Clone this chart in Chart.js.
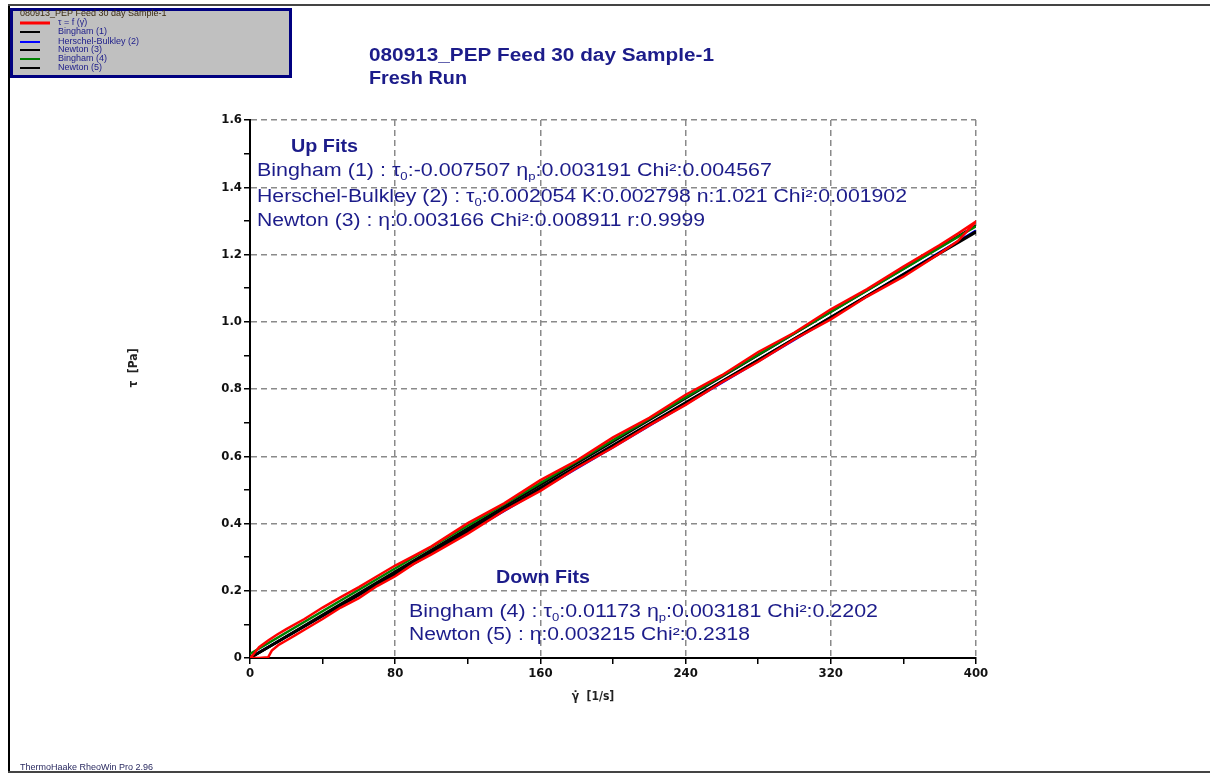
<!DOCTYPE html>
<html>
<head>
<meta charset="utf-8">
<title>080913_PEP Feed 30 day Sample-1</title>
<script src="https://cdn.jsdelivr.net/npm/chart.js@4.4.1/dist/chart.umd.min.js"></script>
<style>
html, body { margin: 0; padding: 0; background: #fff; }
#wrap { width: 1210px; height: 773px; }
</style>
</head>
<body>
<div id="wrap"><canvas id="rheoChart" width="1210" height="773"></canvas></div>
<script>
const sampleTitle = '080913_PEP Feed 30 day Sample-1';
const runName = 'Fresh Run';
const footerText = 'ThermoHaake RheoWin Pro 2.96';

// axis ticks
const xMajor = [0, 80, 160, 240, 320, 400];
const yMajor = [0, 0.2, 0.4, 0.6, 0.8, 1.0, 1.2, 1.4, 1.6];

// measured curve: up ramp then down ramp
const upShear  = [0, 5, 10, 12, 16, 20, 25, 30, 40, 50, 60, 70, 80, 90, 100, 120, 140, 160, 180, 200, 220, 240, 260, 280, 300, 320, 340, 360, 380, 390, 400];
const upStress = [0, 0, 0.002, 0.022, 0.040, 0.052, 0.068, 0.084, 0.116, 0.150, 0.178, 0.214, 0.243, 0.279, 0.308, 0.370, 0.438, 0.497, 0.565, 0.626, 0.692, 0.753, 0.820, 0.881, 0.948, 1.007, 1.075, 1.134, 1.203, 1.240, 1.298];
const downShear  = [400, 390, 380, 360, 340, 320, 300, 280, 260, 240, 220, 200, 180, 160, 140, 120, 100, 90, 80, 70, 60, 50, 40, 30, 20, 15, 10, 5, 2, 0];
const downStress = [1.298, 1.262, 1.228, 1.164, 1.097, 1.037, 0.968, 0.910, 0.841, 0.783, 0.714, 0.656, 0.587, 0.529, 0.460, 0.401, 0.332, 0.303, 0.275, 0.243, 0.211, 0.181, 0.150, 0.116, 0.086, 0.070, 0.052, 0.032, 0.012, 0];

// fitted curves
const fitShear = [0, 100, 200, 300, 400];
const bingham1 = [0, 0.312, 0.631, 0.950, 1.269];
const herschel2 = [0.002, 0.311, 0.627, 0.947, 1.271];
const newton3 = [0, 0.317, 0.633, 0.950, 1.266];
const bingham4 = [0.012, 0.330, 0.648, 0.966, 1.284];
const newton5 = [0, 0.322, 0.643, 0.965, 1.286];

const seriesLabels = ['τ = f (γ̇)', 'Bingham (1)', 'Herschel-Bulkley (2)', 'Newton (3)', 'Bingham (4)', 'Newton (5)'];
const seriesColors = ['#ff0000', '#000000', '#0000ff', '#000000', '#008000', '#000000'];

const upFitLines = [
    ['Bingham (1) : τ', { sub: '0' }, ':-0.007507 η', { sub: 'p' }, ':0.003191 Chi²:0.004567'],
    ['Herschel-Bulkley (2) : τ', { sub: '0' }, ':0.002054 K:0.002798 n:1.021 Chi²:0.001902'],
    ['Newton (3) : η:0.003166 Chi²:0.008911 r:0.9999']
];
const downFitLines = [
    ['Bingham (4) : τ', { sub: '0' }, ':0.01173 η', { sub: 'p' }, ':0.003181 Chi²:0.2202'],
    ['Newton (5) : η:0.003215 Chi²:0.2318']
];

const navy = '#1c1c8a';
const sans = '"Liberation Sans", Arial, sans-serif';
const tickFont = "'Liberation Sans Narrow', 'DejaVu Sans Condensed', 'Liberation Sans', sans-serif";

function toPoints(xs, ys) {
    return xs.map((x, i) => ({ x: x, y: ys[i] }));
}

// draws text parts (plain strings and {sub}) stretched to a given width
function drawRich(ctx, parts, x, y, size, weight, width) {
    const big = weight + ' ' + size + 'px ' + sans;
    const small = weight + ' ' + Math.round(size * 0.62) + 'px ' + sans;
    let natural = 0;
    parts.forEach(p => {
        ctx.font = typeof p === 'string' ? big : small;
        natural += ctx.measureText(typeof p === 'string' ? p : p.sub).width;
    });
    ctx.save();
    ctx.translate(x, y);
    ctx.scale(width ? width / natural : 1, 1);
    let cx = 0;
    parts.forEach(p => {
        if (typeof p === 'string') {
            ctx.font = big;
            ctx.fillText(p, cx, 0);
            cx += ctx.measureText(p).width;
        } else {
            ctx.font = small;
            ctx.fillText(p.sub, cx, size * 0.32);
            cx += ctx.measureText(p.sub).width;
        }
    });
    ctx.restore();
}

const decorPlugin = {
    id: 'decor',
    beforeDraw(chart) {
        const ctx = chart.ctx;
        ctx.save();
        ctx.fillStyle = '#ffffff';
        ctx.fillRect(0, 0, chart.width, chart.height);
        ctx.restore();
    },
    afterDraw(chart) {
        const ctx = chart.ctx;
        ctx.save();

        // page frame
        ctx.strokeStyle = '#000';
        ctx.lineWidth = 2;
        ctx.beginPath();
        ctx.moveTo(9, 5);
        ctx.lineTo(9, 773);
        ctx.stroke();
        ctx.strokeStyle = '#444';
        ctx.beginPath();
        ctx.moveTo(8, 5);
        ctx.lineTo(1210, 5);
        ctx.stroke();

        // legend box
        ctx.fillStyle = '#c0c0c0';
        ctx.fillRect(11, 9, 280, 68);
        ctx.strokeStyle = '#000080';
        ctx.lineWidth = 3;
        ctx.strokeRect(11.5, 9.5, 279, 67);
        ctx.textBaseline = 'middle';
        ctx.textAlign = 'left';
        ctx.fillStyle = '#3a2a10';
        ctx.font = '9px ' + sans;
        ctx.fillText(sampleTitle, 20, 14);
        const rowY = [23, 32, 42, 50, 59, 68];
        chart.data.datasets.forEach((ds, i) => {
            ctx.strokeStyle = ds.borderColor;
            ctx.lineWidth = i === 0 ? 3 : 2;
            ctx.beginPath();
            ctx.moveTo(20, rowY[i]);
            ctx.lineTo(i === 0 ? 50 : 40, rowY[i]);
            ctx.stroke();
            ctx.fillStyle = navy;
            ctx.font = '9px ' + sans;
            ctx.fillText(ds.label, 58, rowY[i]);
        });

        // title
        ctx.fillStyle = navy;
        drawRich(ctx, [sampleTitle], 369, 56, 18, 'bold', 345);
        drawRich(ctx, [runName], 369, 79, 18, 'bold', 98);

        // fit annotations
        drawRich(ctx, ['Up Fits'], 291, 147, 18, 'bold', 67);
        const upW = [515, 650, 448];
        [171, 197, 221].forEach((y, i) => drawRich(ctx, upFitLines[i], 257, y, 18, 'normal', upW[i]));
        drawRich(ctx, ['Down Fits'], 496, 578, 18, 'bold', 94);
        const downW = [469, 341];
        [612, 635].forEach((y, i) => drawRich(ctx, downFitLines[i], 409, y, 18, 'normal', downW[i]));

        // axis titles
        ctx.fillStyle = '#222';
        ctx.font = 'bold 12px ' + tickFont;
        ctx.textAlign = 'center';
        ctx.fillText('γ̇  [1/s]', 593, 697);
        ctx.save();
        ctx.translate(134, 368);
        ctx.rotate(-Math.PI / 2);
        ctx.fillText('τ  [Pa]', 0, 0);
        ctx.restore();

        // footer
        ctx.textAlign = 'left';
        ctx.fillStyle = '#2a2a60';
        ctx.font = '9px ' + sans;
        ctx.fillText(footerText, 20, 768);
        ctx.strokeStyle = '#444';
        ctx.lineWidth = 2;
        ctx.beginPath();
        ctx.moveTo(8, 772);
        ctx.lineTo(1210, 772);
        ctx.stroke();

        ctx.restore();
    }
};

const ctx = document.getElementById('rheoChart').getContext('2d');

new Chart(ctx, {
    type: 'scatter',
    data: {
        datasets: [
            {
                label: seriesLabels[0],
                data: toPoints(upShear.concat(downShear), upStress.concat(downStress)),
                borderColor: seriesColors[0],
                borderWidth: 2.5,
                order: 1
            },
            {
                label: seriesLabels[1],
                data: toPoints(fitShear, bingham1),
                borderColor: seriesColors[1],
                borderWidth: 2.5,
                order: 6
            },
            {
                label: seriesLabels[2],
                data: toPoints(fitShear, herschel2),
                borderColor: seriesColors[2],
                borderWidth: 2.5,
                order: 7
            },
            {
                label: seriesLabels[3],
                data: toPoints(fitShear, newton3),
                borderColor: seriesColors[3],
                borderWidth: 2.5,
                order: 5
            },
            {
                label: seriesLabels[4],
                data: toPoints(fitShear, bingham4),
                borderColor: seriesColors[4],
                borderWidth: 2.5,
                order: 3
            },
            {
                label: seriesLabels[5],
                data: toPoints(fitShear, newton5),
                borderColor: seriesColors[5],
                borderWidth: 2.5,
                order: 4
            }
        ].map(ds => Object.assign(ds, { showLine: true, pointRadius: 0, fill: false, tension: 0 }))
    },
    options: {
        responsive: false,
        animation: false,
        events: [],
        layout: {
            padding: { left: 0, right: 234, top: 120, bottom: 0 }
        },
        scales: {
            x: {
                type: 'linear',
                min: 0,
                max: 400,
                afterFit: scale => { scale.height = 115; },
                afterBuildTicks: scale => {
                    const t = [];
                    for (let v = 0; v <= 400; v += 40) t.push({ value: v });
                    scale.ticks = t;
                },
                ticks: {
                    color: '#111',
                    font: { family: tickFont, size: 13, weight: 'bold' },
                    padding: 2,
                    maxRotation: 0,
                    autoSkip: false,
                    callback: v => (xMajor.includes(v) ? String(v) : '')
                },
                grid: {
                    color: c => (c.tick && xMajor.includes(c.tick.value) ? '#8a8a8a' : 'rgba(0,0,0,0)'),
                    lineWidth: 1.5,
                    tickColor: '#000',
                    tickLength: 6,
                    tickWidth: 1.5,
                    tickBorderDash: []
                },
                border: { display: true, color: '#000', width: 2, dash: [6, 4] }
            },
            y: {
                type: 'linear',
                min: 0,
                max: 1.6,
                afterFit: scale => { scale.width = 250; },
                afterBuildTicks: scale => {
                    const t = [];
                    for (let k = 0; k <= 16; k++) t.push({ value: k / 10 });
                    scale.ticks = t;
                },
                ticks: {
                    color: '#111',
                    font: { family: tickFont, size: 13, weight: 'bold' },
                    padding: 2,
                    autoSkip: false,
                    callback: v => {
                        const k = Math.round(v * 10);
                        if (k % 2 !== 0) return '';
                        return k === 0 ? '0' : (k / 10).toFixed(1);
                    }
                },
                grid: {
                    color: c => (c.tick && Math.round(c.tick.value * 10) % 2 === 0 ? '#8a8a8a' : 'rgba(0,0,0,0)'),
                    lineWidth: 1.5,
                    tickColor: '#000',
                    tickLength: 6,
                    tickWidth: 1.5,
                    tickBorderDash: []
                },
                border: { display: true, color: '#000', width: 2, dash: [6, 4] }
            }
        },
        plugins: {
            legend: { display: false },
            title: { display: false },
            tooltip: { enabled: false }
        }
    },
    plugins: [decorPlugin]
});
</script>
</body>
</html>
